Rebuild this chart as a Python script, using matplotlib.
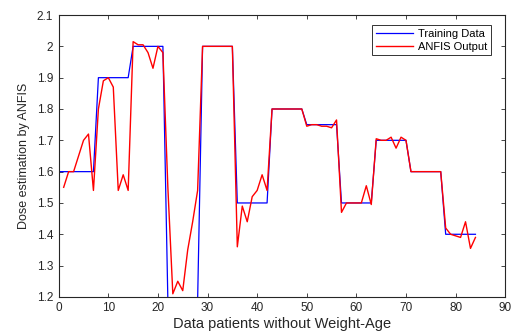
import numpy as np
import matplotlib
matplotlib.use("Agg")
import matplotlib.pyplot as plt
from matplotlib.ticker import FuncFormatter

plt.rcParams['font.family'] = ['Liberation Sans', 'DejaVu Sans']

# Training targets: one dose level per block of patients
train_x = list(range(0, 85))
train_levels = [1.6, 1.9, 2.0, 1.19, 2.0, 1.5, 1.8, 1.75, 1.5, 1.7, 1.6, 1.4]
train_y = [1.6] + [lvl for lvl in train_levels for _ in range(7)]

# ANFIS output for patients 1..84
anfis_x = list(range(1, 85))
anfis_y = [
    1.55, 1.60, 1.60, 1.65, 1.70, 1.72, 1.54,
    1.80, 1.89, 1.90, 1.87, 1.54, 1.59, 1.54,
    2.015, 2.005, 2.005, 1.98, 1.93, 2.00, 1.98,
    1.55, 1.21, 1.25, 1.22, 1.35, 1.44, 1.54,
    2.00, 2.00, 2.00, 2.00, 2.00, 2.00, 2.00,
    1.36, 1.49, 1.44, 1.52, 1.54, 1.59, 1.54,
    1.80, 1.80, 1.80, 1.80, 1.80, 1.80, 1.80,
    1.745, 1.75, 1.75, 1.745, 1.745, 1.74, 1.765,
    1.47, 1.50, 1.50, 1.50, 1.50, 1.555, 1.495,
    1.705, 1.70, 1.70, 1.71, 1.675, 1.71, 1.70,
    1.60, 1.60, 1.60, 1.60, 1.60, 1.60, 1.60,
    1.42, 1.40, 1.395, 1.39, 1.44, 1.355, 1.39,
]

fig = plt.figure(figsize=(5.15, 3.34), dpi=100)
ax = fig.add_axes([0.114, 0.111, 0.867, 0.844])

ax.plot(train_x, train_y, color='#0000ff', linewidth=0.9, label='Training Data')
ax.plot(anfis_x, anfis_y, color='#ff0000', linewidth=1.0, label='ANFIS Output')

ax.set_xlim(0, 90)
ax.set_ylim(1.2, 2.1)
ax.set_xticks(np.arange(0, 91, 10))
ax.set_yticks(np.round(np.arange(1.2, 2.11, 0.1), 1))
ax.yaxis.set_major_formatter(FuncFormatter(lambda v, p: f"{v:g}"))

gray = '#262626'
for s in ax.spines.values():
    s.set_color(gray)
    s.set_linewidth(0.8)
ax.tick_params(direction='in', top=True, right=True, length=3, width=0.6,
               labelsize=8.5, colors=gray, pad=4)

ax.set_xlabel('Data patients without Weight-Age', fontsize=10.5, color=gray, labelpad=2)
ax.set_ylabel('Dose estimation by ANFIS', fontsize=9, color=gray, labelpad=5)

leg = ax.legend(loc='upper right', bbox_to_anchor=(0.968, 0.965), fontsize=8,
                frameon=True, fancybox=False, edgecolor='black', borderpad=0.35,
                handlelength=3.4, handletextpad=0.4, labelspacing=0.25,
                borderaxespad=0)
leg.get_frame().set_linewidth(0.7)

fig.savefig('out.png', dpi=100)
